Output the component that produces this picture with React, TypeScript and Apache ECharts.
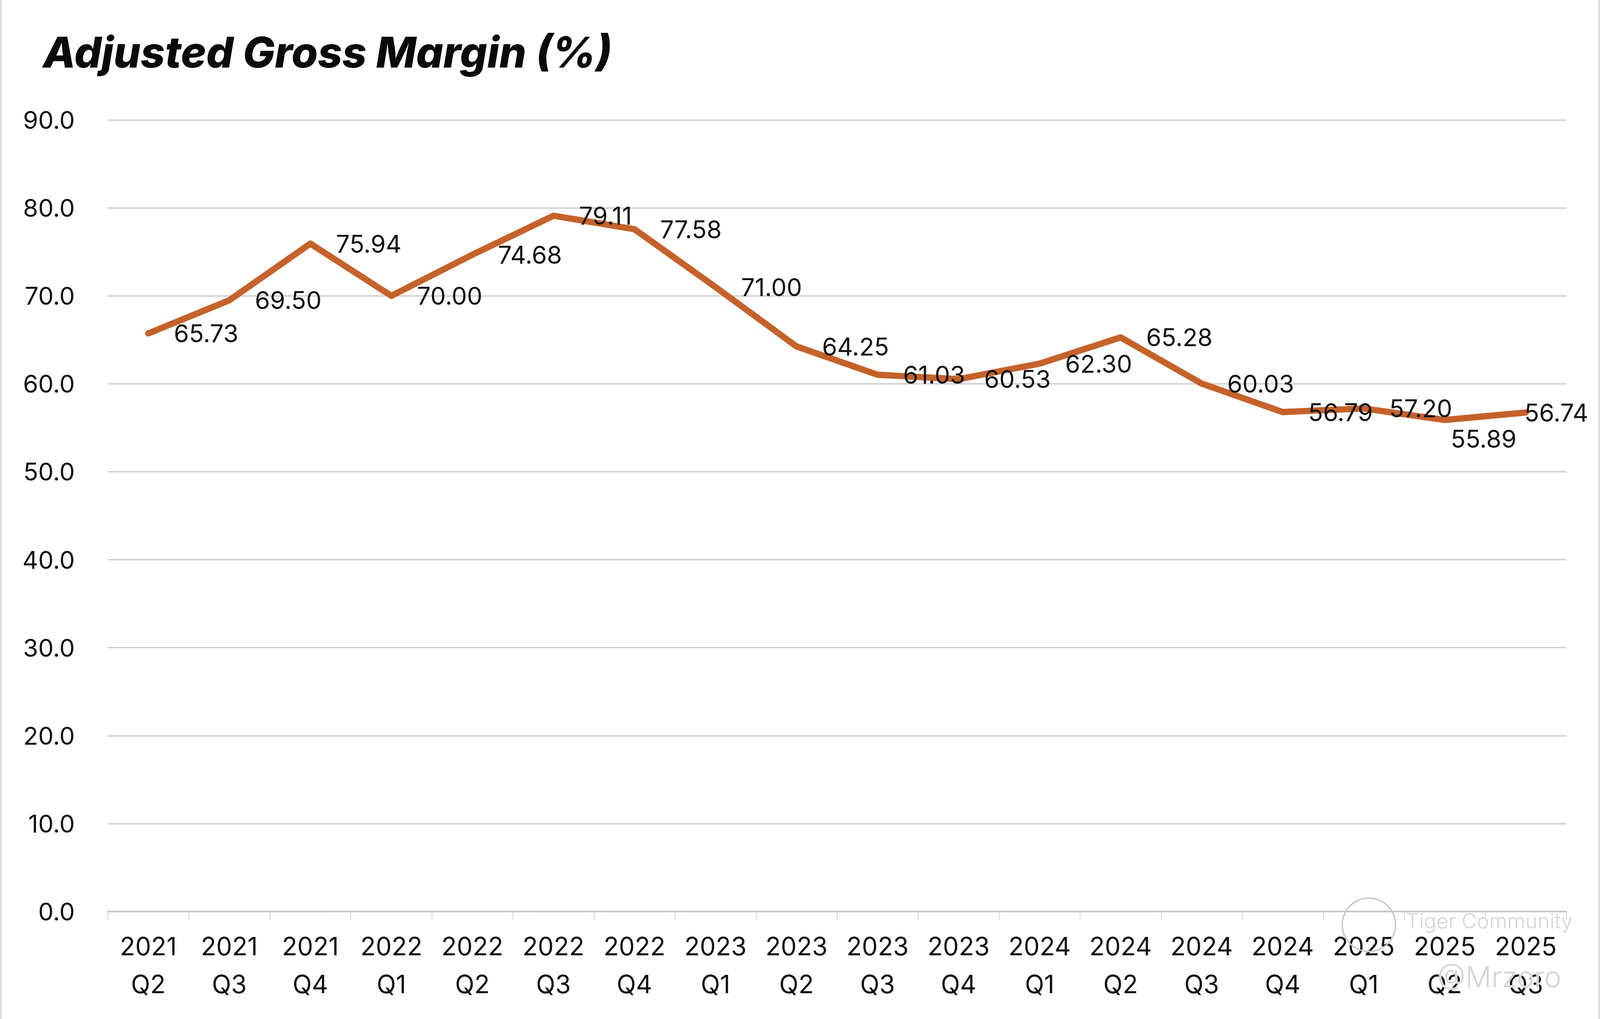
import React, { useEffect, useRef } from "react";
import * as echarts from "echarts";

const TITLE = "Adjusted Gross Margin (%)";
const YEARS = ["2021", "2021", "2021", "2022", "2022", "2022", "2022", "2023", "2023", "2023", "2023", "2024", "2024", "2024", "2024", "2025", "2025", "2025"];
const QUARTERS = ["Q2", "Q3", "Q4", "Q1", "Q2", "Q3", "Q4", "Q1", "Q2", "Q3", "Q4", "Q1", "Q2", "Q3", "Q4", "Q1", "Q2", "Q3"];
const MARGIN = [65.73, 69.5, 75.94, 70.0, 74.68, 79.11, 77.58, 71.0, 64.25, 61.03, 60.53, 62.3, 65.28, 60.03, 56.79, 57.2, 55.89, 56.74];
const Y_MIN = 0;
const Y_MAX = 90;
const Y_STEP = 10;

const FONT = "Inter, 'Noto Sans', sans-serif";
const REF_W = 4320;
const REF_H = 2608;

export default function App() {
  const ref = useRef<HTMLDivElement>(null);
  useEffect(() => {
    if (!ref.current) return;
    const W = window.innerWidth || REF_W;
    const H = window.innerHeight || REF_H;
    const sx = W / REF_W;
    const sy = H / REF_H;
    const s = Math.min(sx, sy);
    const X = (v: number) => v * sx;
    const Yp = (v: number) => v * sy;
    const F = (v: number) => v * s;
    const chart = echarts.init(ref.current, undefined, { renderer: "svg" });
    const categories = YEARS.map((y, i) => `${y}\n${QUARTERS[i]}`);
    const lastIdx = MARGIN.length - 1;
    const symSize = F(2);
    const data = MARGIN.map((v, i) => {
      if (i === lastIdx - 1) {
        return {
          value: v,
          label: { position: [symSize / 2 + X(16), symSize / 2 + Yp(48)], align: "left", verticalAlign: "middle" },
        };
      }
      if (i === lastIdx) {
        return {
          value: v,
          label: { position: [symSize / 2 - X(4), symSize / 2], align: "left", verticalAlign: "middle" },
        };
      }
      return v;
    });
    chart.setOption({
      animation: false,
      backgroundColor: "#ffffff",
      title: {
        text: TITLE,
        left: X(116),
        top: Yp(78),
        padding: 0,
        textStyle: {
          fontFamily: FONT,
          fontSize: F(115),
          fontWeight: 800,
          fontStyle: "italic",
          color: "#0a0a0a",
        },
      },
      grid: { left: X(291), right: X(91), top: Yp(307), bottom: Yp(275), containLabel: false },
      xAxis: {
        type: "category",
        data: categories,
        boundaryGap: true,
        axisLine: { show: true, lineStyle: { color: "#c4c4c4", width: F(4) } },
        axisTick: { show: true, length: Yp(22), interval: 0, lineStyle: { color: "#dcccc4", width: F(2) } },
        axisLabel: {
          interval: 0,
          margin: Yp(40),
          fontFamily: FONT,
          fontSize: F(68),
          lineHeight: Yp(97),
          color: "#111111",
        },
        splitLine: { show: false },
      },
      yAxis: {
        type: "value",
        min: Y_MIN,
        max: Y_MAX,
        interval: Y_STEP,
        axisLine: { show: false },
        axisTick: { show: false },
        axisLabel: {
          margin: X(89),
          fontFamily: FONT,
          fontSize: F(66),
          color: "#111111",
          formatter: (v: number) => v.toFixed(1),
        },
        splitLine: { show: true, lineStyle: { color: "#c8c8c8", width: F(3) } },
      },
      series: [
        {
          type: "line",
          data,
          symbol: "circle",
          symbolSize: symSize,
          showSymbol: true,
          itemStyle: { color: "#c5622a" },
          lineStyle: { color: "#c5622a", width: F(17), cap: "round", join: "round" },
          label: {
            show: true,
            position: "right",
            distance: X(68),
            fontFamily: FONT,
            fontSize: F(66),
            color: "#111111",
            formatter: (p: any) => Number(p.value).toFixed(2),
          },
          labelLayout: { hideOverlap: false },
          z: 3,
        },
      ],
      graphic: [
        { type: "rect", left: 0, top: 0, shape: { width: F(5), height: H }, style: { fill: "#dedede" }, silent: true },
        { type: "rect", right: 0, top: 0, shape: { width: F(5), height: H }, style: { fill: "#dedede" }, silent: true },
        {
          type: "circle",
          shape: { cx: X(3696), cy: Yp(2367), r: F(72) },
          style: { fill: "none", stroke: "#c9c9c9", lineWidth: F(4) },
          silent: true,
          z: 10,
        },
        {
          type: "text",
          left: X(3795),
          top: Yp(2330),
          style: { text: "Tiger Community", fontFamily: FONT, fontSize: F(56), fontWeight: 300, fill: "#d4d4d4", stroke: "#ffffff", lineWidth: F(2) },
          silent: true,
          z: 10,
        },
        {
          type: "text",
          left: X(3880),
          top: Yp(2462),
          style: { text: "@Mrzoro", fontFamily: FONT, fontSize: F(78), fontWeight: 300, fill: "#d4d4d4", stroke: "#ffffff", lineWidth: F(2) },
          silent: true,
          z: 10,
        },
      ],
    });
    return () => chart.dispose();
  }, []);
  return (
    <div
      ref={ref}
      style={{ position: "fixed", left: 0, top: 0, width: "100vw", height: "100vh" }}
    />
  );
}
